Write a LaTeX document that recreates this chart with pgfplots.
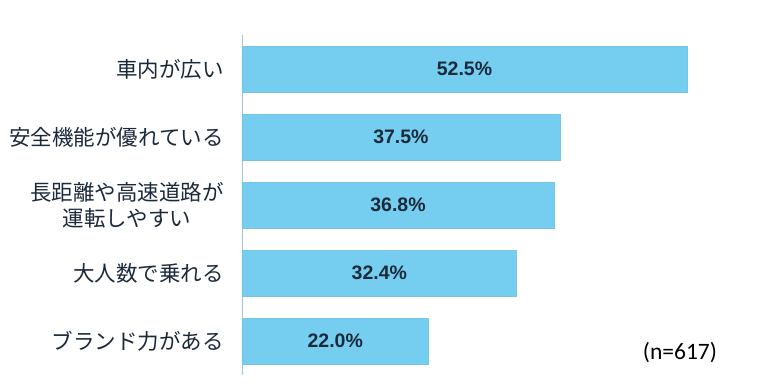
\documentclass[border=0pt]{standalone}
\usepackage{pgfplots}
\pgfplotsset{compat=1.18}
\usepackage{fontspec}
\setmainfont{Liberation Sans}
\newfontfamily\jp{Noto Sans CJK JP}
\newfontfamily\calfont{Carlito}
\definecolor{barcol}{HTML}{75CEEF}
\definecolor{axcol}{HTML}{9EC5DC}
\definecolor{txt}{HTML}{1B2A3A}
\begin{document}
\begin{tikzpicture}
\path[use as bounding box] (0pt,0pt) rectangle (769pt,384pt);
\begin{axis}[
  at={(242pt,9pt)}, anchor=south west,
  scale only axis, width=508.6pt, height=340pt,
  xmin=0, xmax=60, ymin=-0.5, ymax=4.5,
  y dir=reverse,
  axis x line=none,
  axis y line*=left,
  y axis line style={draw=axcol, line width=0.8pt},
  xtick=\empty,
  ytick={0,1,2,3,4},
  yticklabels={車内が広い,安全機能が優れている,{長距離や高速道路が\\運転しやすい},大人数で乗れる,ブランド力がある},
  ytick style={draw=none},
  yticklabel style={font=\jp\fontsize{21.5}{26}\selectfont, align=center, text=txt, inner sep=0pt, xshift=-18pt},
  clip=false,
]
\addplot[xbar, bar width=46pt, fill=barcol, draw=barcol!90!gray, line width=0.4pt]
  coordinates {(52.5,0) (37.5,1) (36.8,2) (32.4,3) (22.0,4)};
\addplot[draw=none, mark=none, nodes near coords, point meta=explicit symbolic,
  nodes near coords style={anchor=center, font=\bfseries\fontsize{19.5}{20}\selectfont, text=txt}]
  coordinates {(26.25,0) [52.5\%] (18.75,1) [37.5\%] (18.4,2) [36.8\%] (16.2,3) [32.4\%] (11.0,4) [22.0\%]};
\end{axis}
\node[font=\calfont\fontsize{23.5}{25}\selectfont, text=black] at (680pt,31pt) {(n=617)};
\end{tikzpicture}
\end{document}
